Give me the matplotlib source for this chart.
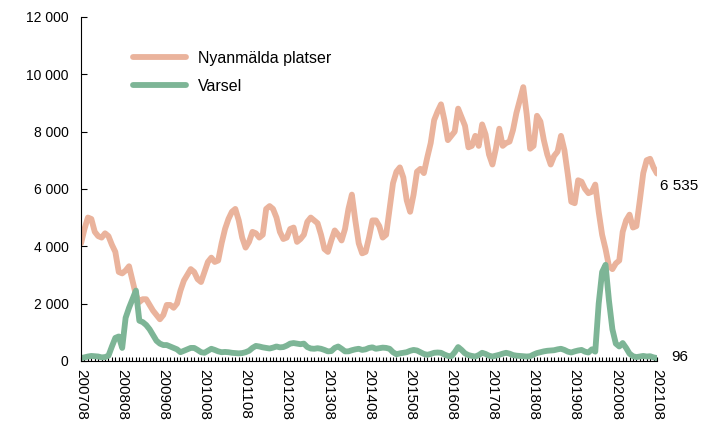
import numpy as np
import pandas as pd
import matplotlib
matplotlib.use("Agg")
import matplotlib.pyplot as plt
from matplotlib.ticker import FuncFormatter, MultipleLocator

# monthly data 2007-08 .. 2021-08
start_month = "2007-08"
end_month = "2021-08"

nyanmalda = [
    4100, 4600, 5000, 4950, 4500, 4350, 4300, 4450, 4350, 4050,
    3800, 3100, 3050, 3150, 3300, 2800, 2300, 2050, 2150, 2150,
    1950, 1750, 1600, 1450, 1600, 1950, 1950, 1850, 2000, 2450,
    2800, 3000, 3200, 3100, 2850, 2750, 3100, 3450, 3600, 3450,
    3500, 4100, 4600, 4950, 5200, 5300, 4900, 4300, 3950, 4150,
    4500, 4450, 4300, 4400, 5300, 5400, 5300, 5000, 4500, 4250,
    4300, 4600, 4650, 4150, 4250, 4400, 4850, 5000, 4900, 4800,
    4400, 3900, 3800, 4200, 4550, 4400, 4200, 4600, 5300, 5800,
    4900, 4100, 3750, 3800, 4300, 4900, 4900, 4700, 4300, 4400,
    5300, 6200, 6600, 6750, 6400, 5600, 5200, 5800, 6600, 6700,
    6550, 7100, 7600, 8400, 8700, 8950, 8400, 7700, 7850, 8000,
    8800, 8500, 8200, 7450, 7500, 7850, 7500, 8250, 7900, 7200,
    6850, 7400, 8100, 7500, 7600, 7650, 8050, 8650, 9100, 9550,
    8600, 7400, 7500, 8550, 8350, 7700, 7200, 6850, 7150, 7300,
    7850, 7350, 6500, 5550, 5500, 6300, 6250, 6000, 5850, 5900,
    6150, 5200, 4400, 3900, 3300, 3200, 3400, 3500, 4500, 4900,
    5100, 4650, 4700, 5600, 6550, 7000, 7050, 6750, 6535,
]

varsel = [
    100, 120, 150, 170, 160, 150, 120, 130, 180, 500,
    800, 850, 450, 1500, 1850, 2150, 2450, 1400, 1350, 1250,
    1100, 900, 700, 600, 550, 550, 500, 450, 400, 300,
    350, 400, 450, 450, 380, 300, 280, 350, 420, 380,
    330, 300, 310, 300, 280, 270, 260, 270, 300, 350,
    450, 520, 500, 470, 450, 430, 460, 500, 470, 480,
    530, 600, 620, 600, 580, 600, 480, 430, 420, 440,
    420, 380, 330, 340, 450, 500, 420, 330, 330, 370,
    400, 420, 380, 400, 450, 470, 420, 440, 460, 450,
    420, 300, 230, 260, 280, 300, 350, 380, 360, 300,
    240, 210, 240, 280, 290, 280, 220, 170, 160, 300,
    480, 380, 260, 200, 170, 150, 200, 280, 240, 180,
    150, 180, 210, 250, 280, 250, 200, 180, 170, 160,
    150, 160, 220, 270, 300, 330, 350, 360, 370, 400,
    420, 380, 320, 290, 330, 360, 380, 320, 290, 400,
    320, 2000, 3100, 3350, 2100, 1100, 600, 500, 620, 450,
    250, 160, 130, 150, 170, 150, 160, 120, 96,
]

months = pd.period_range(start_month, end_month, freq="M")
tick_labels = [m.strftime("%Y%m") for m in months[::12]]

plt.rcParams["font.family"] = ["Liberation Sans", "DejaVu Sans"]
plt.rcParams["font.size"] = 10

orange = "#EAB39C"
green = "#7DB596"

fig = plt.figure(figsize=(7.11, 4.23), dpi=100)
ax = fig.add_axes([0.114, 0.147, 0.81, 0.813])

x = np.arange(len(months))
ax.plot(x, nyanmalda, color=orange, lw=4.2, solid_capstyle="round",
        label="Nyanmälda platser")
ax.plot(x, varsel, color=green, lw=4.2, solid_capstyle="round",
        label="Varsel")

ax.set_xlim(0, len(months) - 1)
ax.set_ylim(0, 12000)
ax.yaxis.set_major_locator(MultipleLocator(2000))
ax.yaxis.set_major_formatter(FuncFormatter(lambda v, p: f"{v:,.0f}".replace(",", " ")))

ax.set_xticks(x[::12])
ax.set_xticklabels(tick_labels, rotation=-90, fontsize=11)
ax.set_xticks(x, minor=True)
ax.tick_params(axis="x", which="both", direction="in", length=3, width=0.8, pad=6)
ax.tick_params(axis="y", direction="in", length=4, width=0.8, pad=9)

for s in ["top", "right"]:
    ax.spines[s].set_visible(False)
for s in ["left", "bottom"]:
    ax.spines[s].set_linewidth(0.8)

# end labels
ax.annotate(f"{nyanmalda[-1]:,}".replace(",", " "), xy=(x[-1], nyanmalda[-1]),
            xytext=(2, -9), textcoords="offset points", va="center", ha="left",
            fontsize=11, annotation_clip=False)
ax.annotate(f"{varsel[-1]:,}".replace(",", " "), xy=(x[-1], varsel[-1]),
            xytext=(10, 1), textcoords="offset points", va="center", ha="left",
            fontsize=11, annotation_clip=False)

ax.legend(loc="upper left", bbox_to_anchor=(0.066, 0.943), frameon=False,
          fontsize=11.5, handlelength=3.3, handletextpad=0.75, labelspacing=0.82)

fig.savefig("out.png", dpi=100)
